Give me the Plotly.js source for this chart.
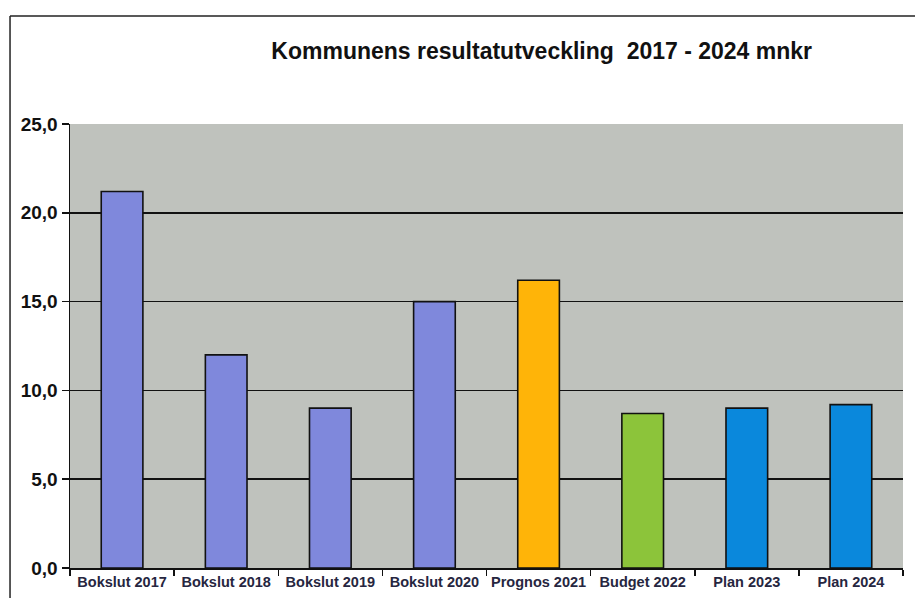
<!DOCTYPE html>
<html>
<head>
<meta charset="utf-8">
<script src="https://cdn.plot.ly/plotly-3.0.1.min.js"></script>
<style>html,body{margin:0;padding:0;background:#fff;}#chart{width:915px;height:598px;}</style>
</head>
<body>
<div id="chart"></div>
<script>
var categories = ["Bokslut 2017","Bokslut 2018","Bokslut 2019","Bokslut 2020","Prognos 2021","Budget 2022","Plan 2023","Plan 2024"];
var values = [21.2, 12.0, 9.0, 15.0, 16.2, 8.7, 9.0, 9.2];
var barColors = ["#7f88dc","#7f88dc","#7f88dc","#7f88dc","#ffb408","#8cc43a","#0a88dc","#0a88dc"];
var yTicks = [0, 5, 10, 15, 20, 25];
var titleText = "Kommunens resultatutveckling&nbsp;&nbsp;2017 - 2024 mnkr";

var trace = {
  type: "bar",
  x: categories,
  y: values,
  marker: {color: barColors, line: {color: "#111", width: 1.6}},
  width: 0.4,
  hoverinfo: "x+y"
};

var layout = {
  width: 915, height: 598,
  margin: {l: 70, r: 12, t: 124, b: 30},
  paper_bgcolor: "#ffffff",
  plot_bgcolor: "#bfc2bd",
  separators: ", ",
  showlegend: false,
  title: {
    text: titleText,
    font: {family: "Liberation Sans, Arial, sans-serif", size: 23, color: "#111", weight: "bold"},
    x: 0.592, xanchor: "center", y: 0.915, yanchor: "middle"
  },
  xaxis: {
    type: "category",
    tickson: "boundaries",
    tickangle: 0,
    ticks: "outside", ticklen: 6, tickcolor: "#111", tickwidth: 1.5,
    showline: true, linecolor: "#111", linewidth: 1.5,
    showgrid: false,
    tickfont: {family: "Liberation Sans, Arial, sans-serif", size: 14.5, color: "#262640", weight: "bold"}
  },
  yaxis: {
    range: [0, 25],
    tickvals: yTicks,
    tickformat: ".1f",
    ticks: "outside", ticklen: 7, tickcolor: "#111", tickwidth: 1.5,
    showline: true, linecolor: "#111", linewidth: 1.5,
    showgrid: true, gridcolor: "#111", gridwidth: 1.5,
    zeroline: false,
    tickfont: {family: "Liberation Sans, Arial, sans-serif", size: 19, color: "#111", weight: "bold"}
  },
  shapes: [
    {type: "line", xref: "paper", yref: "paper", x0: -0.072, x1: 1.02, y0: 1.243, y1: 1.243, line: {color: "#222", width: 1.5}},
    {type: "line", xref: "paper", yref: "paper", x0: -0.072, x1: -0.072, y0: 1.243, y1: -0.1, line: {color: "#222", width: 1.5}}
  ]
};

Plotly.newPlot("chart", [trace], layout, {displayModeBar: false, staticPlot: true});
</script>
</body>
</html>
